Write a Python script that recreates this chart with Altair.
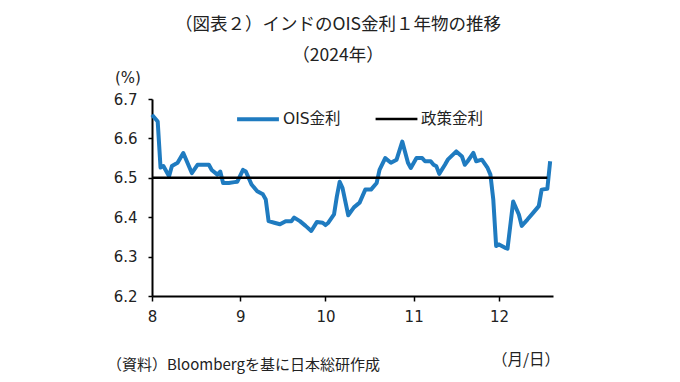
import altair as alt
import pandas as pd

# ---- data ----
ois_dates = [
    "2024-08-01", "2024-08-03", "2024-08-04", "2024-08-05", "2024-08-07", "2024-08-08",
    "2024-08-10", "2024-08-12", "2024-08-15", "2024-08-17", "2024-08-21", "2024-08-22",
    "2024-08-24", "2024-08-25", "2024-08-26", "2024-08-28", "2024-08-30", "2024-08-31",
    "2024-09-02", "2024-09-03", "2024-09-05", "2024-09-07", "2024-09-09", "2024-09-10",
    "2024-09-11", "2024-09-13", "2024-09-15", "2024-09-17", "2024-09-19", "2024-09-20",
    "2024-09-22", "2024-09-24", "2024-09-26", "2024-09-28", "2024-09-30",
    "2024-10-01", "2024-10-02", "2024-10-04", "2024-10-05", "2024-10-06", "2024-10-07",
    "2024-10-09", "2024-10-11", "2024-10-13", "2024-10-15", "2024-10-17", "2024-10-19",
    "2024-10-20", "2024-10-22", "2024-10-24", "2024-10-26", "2024-10-28", "2024-10-30",
    "2024-10-31",
    "2024-11-02", "2024-11-04", "2024-11-05", "2024-11-07", "2024-11-08", "2024-11-09",
    "2024-11-10", "2024-11-12", "2024-11-13", "2024-11-16", "2024-11-18", "2024-11-19",
    "2024-11-20", "2024-11-22", "2024-11-23", "2024-11-25", "2024-11-27", "2024-11-28",
    "2024-11-29", "2024-11-30",
    "2024-12-01", "2024-12-03", "2024-12-04", "2024-12-06", "2024-12-08", "2024-12-09",
    "2024-12-11", "2024-12-13", "2024-12-15", "2024-12-16", "2024-12-18", "2024-12-19",
]
ois_values = [
    6.66, 6.643, 6.526, 6.53, 6.504, 6.53,
    6.538, 6.563, 6.512, 6.533, 6.533, 6.52,
    6.508, 6.516, 6.487, 6.487, 6.489, 6.49,
    6.52, 6.516, 6.483, 6.466, 6.458, 6.445,
    6.39, 6.386, 6.382, 6.39, 6.39, 6.399,
    6.39, 6.378, 6.365, 6.388, 6.386,
    6.38, 6.386, 6.407, 6.453, 6.49, 6.474,
    6.405, 6.425, 6.437, 6.47, 6.47, 6.487,
    6.52, 6.55, 6.538, 6.546, 6.592, 6.538,
    6.525,
    6.55, 6.55, 6.542, 6.542, 6.533, 6.529,
    6.51, 6.533, 6.546, 6.567, 6.554, 6.533,
    6.542, 6.563, 6.542, 6.546, 6.525, 6.508,
    6.445, 6.327,
    6.331, 6.323, 6.32, 6.44, 6.407, 6.378,
    6.394, 6.411, 6.428, 6.47, 6.472, 6.542,
]
policy_dates = ["2024-08-01", "2024-12-18"]
policy_values = [6.5, 6.5]

series_names = ["OIS金利", "政策金利"]
series_colors = ["#1f7bc0", "#000000"]
series_widths = [4, 2.5]

y_ticks = [6.2, 6.3, 6.4, 6.5, 6.6, 6.7]
x_ticks = ["2024-08-01", "2024-09-01", "2024-10-01", "2024-11-01", "2024-12-01"]
x_domain = ["2024-08-01", "2024-12-20"]

title_line1 = "（図表２）インドのOIS金利１年物の推移"
title_line2 = "（2024年）"
unit_label = "(%)"
x_unit_label = "（月/日）"
source_note = "（資料）Bloombergを基に日本総研作成"

FONT = "DejaVu Sans, Noto Sans CJK JP"
JFONT = "Noto Sans CJK JP"

df = pd.concat([
    pd.DataFrame({"date": ois_dates, "value": ois_values, "series": series_names[0]}),
    pd.DataFrame({"date": policy_dates, "value": policy_values, "series": series_names[1]}),
], ignore_index=True)

W, H = 401, 197

def dt(s):
    y, m, d = (int(v) for v in s.split("-"))
    return alt.DateTime(year=y, month=m, date=d)

legend_opts = dict(title=None, orient="none", legendX=83, legendY=-3,
                   direction="horizontal", symbolType="stroke",
                   symbolSize=1750, labelFontSize=15.5, labelFont=FONT,
                   labelColor="#222", labelOffset=2, columnPadding=29,
                   padding=0)

lines = alt.Chart(df).mark_line(strokeJoin="round").encode(
    x=alt.X("date:T",
            scale=alt.Scale(domain=[dt(s) for s in x_domain]),
            axis=alt.Axis(values=[dt(s) for s in x_ticks], format="%-m", title=None,
                          grid=False, domainColor="#000", domainWidth=2,
                          tickColor="#000", tickSize=5, tickWidth=1.5,
                          labelFontSize=15, labelFont=FONT, labelColor="#222",
                          labelPadding=8, labelFlush=False)),
    y=alt.Y("value:Q",
            scale=alt.Scale(domain=[6.2, 6.7], nice=False, zero=False),
            axis=alt.Axis(values=y_ticks, format=".1f", title=None, grid=False,
                          domainColor="#000", domainWidth=2,
                          tickColor="#000", tickSize=4, tickWidth=1.5,
                          labelFontSize=15, labelFont=FONT, labelColor="#222",
                          labelPadding=11, labelFlush=False)),
    color=alt.Color("series:N",
                    scale=alt.Scale(domain=series_names, range=series_colors),
                    legend=alt.Legend(**legend_opts)),
    strokeWidth=alt.StrokeWidth("series:N",
                                scale=alt.Scale(domain=series_names, range=series_widths),
                                legend=alt.Legend(**legend_opts)),
    order=alt.Order("series:N", sort="descending"),
)

def label(text, x, y, size, align="center", font=JFONT):
    return alt.Chart(pd.DataFrame({"t": [text]})).mark_text(
        align=align, baseline="middle", fontSize=size, font=font, color="#222"
    ).encode(text="t:N", x=alt.value(x), y=alt.value(y))

chart = alt.layer(
    lines,
    label(title_line1, 186, -74, 17.5),
    label(title_line2, 186, -43, 17.5),
    label(unit_label, -24, -21, 15, font=FONT),
    label(x_unit_label, 374, 261, 15.5),
    label(source_note, -45, 266, 15, align="left"),
).properties(
    width=W, height=H,
    autosize=alt.AutoSizeParams(type="none"),
    padding={"left": 144, "top": 91, "right": 110, "bottom": 78},
).configure_view(stroke=None)

chart.save("out.html", embed_options={"renderer": "svg", "actions": False})
